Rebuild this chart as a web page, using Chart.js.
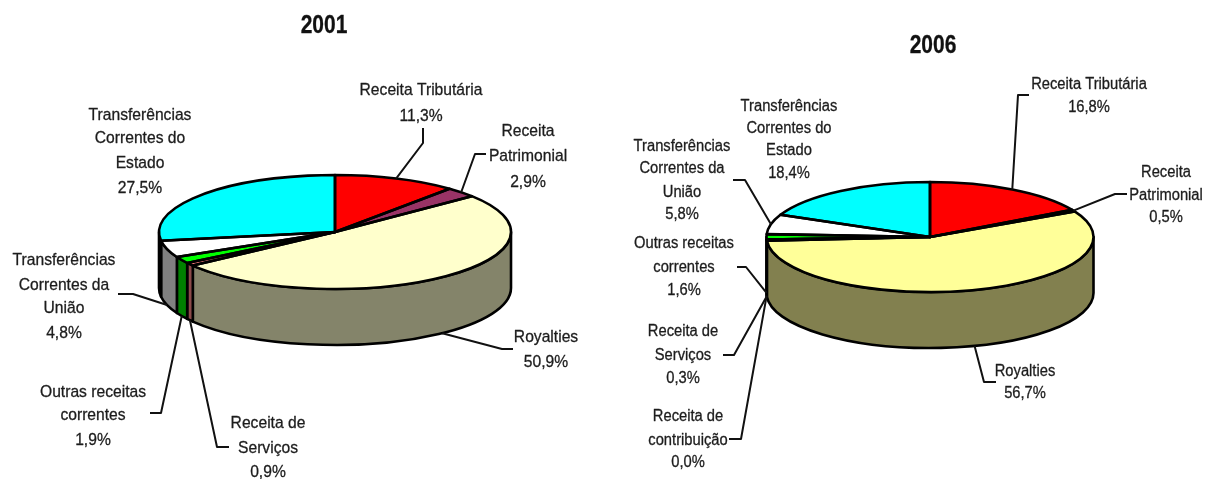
<!DOCTYPE html>
<html>
<head>
<meta charset="utf-8">
<script src="https://cdn.jsdelivr.net/npm/chart.js@4"></script>
<style>
  html, body { margin: 0; padding: 0; background: #fff; }
  #wrap { position: relative; width: 1211px; height: 479px; overflow: hidden; filter: blur(0.5px); }
  canvas { position: absolute; left: 0; top: 0; }
</style>
</head>
<body>
<div id="wrap">
  <canvas id="pie2001" width="1211" height="479"></canvas>
  <canvas id="pie2006" width="1211" height="479"></canvas>
</div>
<script>
const categories2001 = [
  ["Receita Tributária"],
  ["Receita", "Patrimonial"],
  ["Royalties"],
  ["Receita de", "Serviços"],
  ["Outras receitas", "correntes"],
  ["Transferências", "Correntes da", "União"],
  ["Transferências", "Correntes do", "Estado"],
];
const values2001 = [11.3, 2.9, 50.9, 0.9, 1.9, 4.8, 27.5];

const categories2006 = [
  ["Receita Tributária"],
  ["Receita", "Patrimonial"],
  ["Royalties"],
  ["Receita de", "Serviços"],
  ["Receita de", "contribuição"],
  ["Outras receitas", "correntes"],
  ["Transferências", "Correntes da", "União"],
  ["Transferências", "Correntes do", "Estado"],
];
const values2006 = [16.8, 0.5, 56.7, 0.3, 0.0, 1.6, 5.8, 18.4];

const topColors2001 = ["#ff0000", "#993366", "#ffffcc", "#ff8080", "#00ff00", "#ffffff", "#00ffff"];
const sideColors2001 = ["#800000", "#4d1a33", "#84846a", "#8c4a4a", "#008000", "#808080", "#008080"];
const topColors2006 = ["#ff0000", "#993366", "#ffff99", "#ff8080", "#000080", "#00ff00", "#ffffff", "#00ffff"];
const sideColors2006 = ["#800000", "#4d1a33", "#82804f", "#82804f", "#82804f", "#82804f", "#82804f", "#008080"];

// x = text centre, ys = one centre per line, elbow = leader points, onWall = leader ends on the lower rim
const labelLayout2001 = [
  { x: 421, ys: [90, 116], elbow: [[423, 128], [423, 143]] },
  { x: 528, ys: [131, 156, 182], elbow: [[486, 154], [475, 154]] },
  { x: 546, ys: [337, 362], elbow: [[513, 349], [502, 349]], onWall: true },
  { x: 268, ys: [423, 448, 472], elbow: [[229, 447], [217, 447]], onWall: true },
  { x: 93, ys: [392, 415, 440], elbow: [[150, 413], [161, 413]], onWall: true },
  { x: 64, ys: [260, 285, 308, 333], elbow: [[118, 294], [133, 294]], onWall: true },
  { x: 140, ys: [115, 138, 163, 188], elbow: [] },
];
const labelLayout2006 = [
  { x: 1089, ys: [85, 108], elbow: [[1029, 95], [1018, 95]] },
  { x: 1166, ys: [173, 196, 218], elbow: [[1127, 194], [1115, 194]] },
  { x: 1025, ys: [372, 394], elbow: [[996, 382], [984, 382]], onWall: true },
  { x: 683, ys: [332, 356, 379], elbow: [[723, 355], [734, 355]], onWall: true },
  { x: 688, ys: [417, 441, 463], elbow: [[729, 439], [741, 439]], onWall: true },
  { x: 684, ys: [244, 268, 291], elbow: [[737, 267], [746, 267]], onWall: true },
  { x: 682, ys: [147, 169, 193, 215], elbow: [[733, 180], [745, 180]] },
  { x: 789, ys: [107, 129, 151, 174], elbow: [] },
];

function percent(v) {
  return v.toFixed(1).replace(".", ",") + "%";
}

// the scan is narrower than the font, so text goes through a small x scale
function narrowText(ctx, text, x, y, scaleX) {
  ctx.save();
  ctx.translate(x, y);
  ctx.scale(scaleX, 1);
  ctx.strokeText(text, 0, 0);
  ctx.fillText(text, 0, 0);
  ctx.restore();
}

// squashes the library's arcs into a disc and adds the wall below it
const discPlugin = {
  id: "disc",
  beforeDatasetsDraw(chart, args, opts) {
    const ctx = chart.ctx;
    const arcs = chart.getDatasetMeta(0).data;
    const cx = arcs[0].x;
    const cy = arcs[0].y;
    const rx = arcs[0].outerRadius;
    const ry = opts.ry;
    const depth = opts.depth;

    ctx.save();
    ctx.lineWidth = 2.6;
    ctx.lineJoin = "round";
    ctx.strokeStyle = "#000";

    // wall, only the front half of the disc shows
    arcs.forEach((el, i) => {
      const s = Math.max(el.startAngle, 0);
      const e = Math.min(el.endAngle, Math.PI);
      if (e <= s) return;
      ctx.beginPath();
      ctx.ellipse(cx, cy, rx, ry, 0, s, e);
      ctx.ellipse(cx, cy + depth, rx, ry, 0, e, s, true);
      ctx.closePath();
      ctx.fillStyle = opts.sideColors[i];
      ctx.fill();
      ctx.stroke();
    });

    // top face
    ctx.save();
    ctx.translate(cx, cy);
    ctx.scale(1, ry / rx);
    ctx.translate(-cx, -cy);
    arcs.forEach((el) => el.draw(ctx));
    ctx.restore();

    arcs.forEach((el) => {
      ctx.beginPath();
      ctx.moveTo(cx, cy);
      ctx.ellipse(cx, cy, rx, ry, 0, el.startAngle, el.endAngle);
      ctx.closePath();
      ctx.stroke();
    });

    // leaders and labels
    ctx.lineWidth = 2;
    ctx.strokeStyle = "#111";
    arcs.forEach((el, i) => {
      const pos = opts.layout[i];
      if (!pos.elbow.length) return;
      const mid = (el.startAngle + el.endAngle) / 2;
      ctx.beginPath();
      ctx.moveTo(pos.elbow[0][0], pos.elbow[0][1]);
      pos.elbow.slice(1).forEach((p) => ctx.lineTo(p[0], p[1]));
      ctx.lineTo(cx + rx * Math.cos(mid), cy + ry * Math.sin(mid) + (pos.onWall ? depth : 0));
      ctx.stroke();
    });

    ctx.fillStyle = "#1c1c1c";
    ctx.strokeStyle = "#1c1c1c";
    ctx.lineWidth = 0.3;
    ctx.textAlign = "center";
    ctx.textBaseline = "middle";
    ctx.font = opts.fontSize + 'px "Liberation Sans", Arial, sans-serif';
    arcs.forEach((el, i) => {
      const pos = opts.layout[i];
      const lines = chart.data.labels[i].concat(percent(chart.data.datasets[0].data[i]));
      lines.forEach((line, j) => narrowText(ctx, line, pos.x, pos.ys[j], 0.92));
    });

    ctx.font = 'bold 25px "Liberation Sans", Arial, sans-serif';
    ctx.fillStyle = "#111";
    ctx.lineWidth = 0;
    narrowText(ctx, opts.title, opts.titleX, opts.titleY, 0.84);
    ctx.restore();
    return false;
  },
};

function makePie(id, labels, values, topColors, disc, area) {
  new Chart(document.getElementById(id), {
    type: "pie",
    plugins: [discPlugin],
    data: {
      labels: labels,
      datasets: [
        {
          data: values,
          backgroundColor: topColors,
          borderWidth: 0,
        },
      ],
    },
    options: {
      responsive: false,
      animation: false,
      layout: {
        padding: {
          left: area.cx - area.r,
          right: 1211 - area.cx - area.r,
          top: area.cy - area.r,
          bottom: 479 - area.cy - area.r,
        },
      },
      plugins: {
        legend: { display: false },
        tooltip: { enabled: false },
        disc: disc,
      },
    },
  });
}

makePie("pie2001", categories2001, values2001, topColors2001, {
  title: "2001", titleX: 324, titleY: 26,
  ry: 57, depth: 56, fontSize: 17,
  sideColors: sideColors2001, layout: labelLayout2001,
}, { cx: 335, cy: 232, r: 176 });

makePie("pie2006", categories2006, values2006, topColors2006, {
  title: "2006", titleX: 933, titleY: 46,
  ry: 55, depth: 56, fontSize: 16,
  sideColors: sideColors2006, layout: labelLayout2006,
}, { cx: 930, cy: 237, r: 163.5 });
</script>
</body>
</html>
